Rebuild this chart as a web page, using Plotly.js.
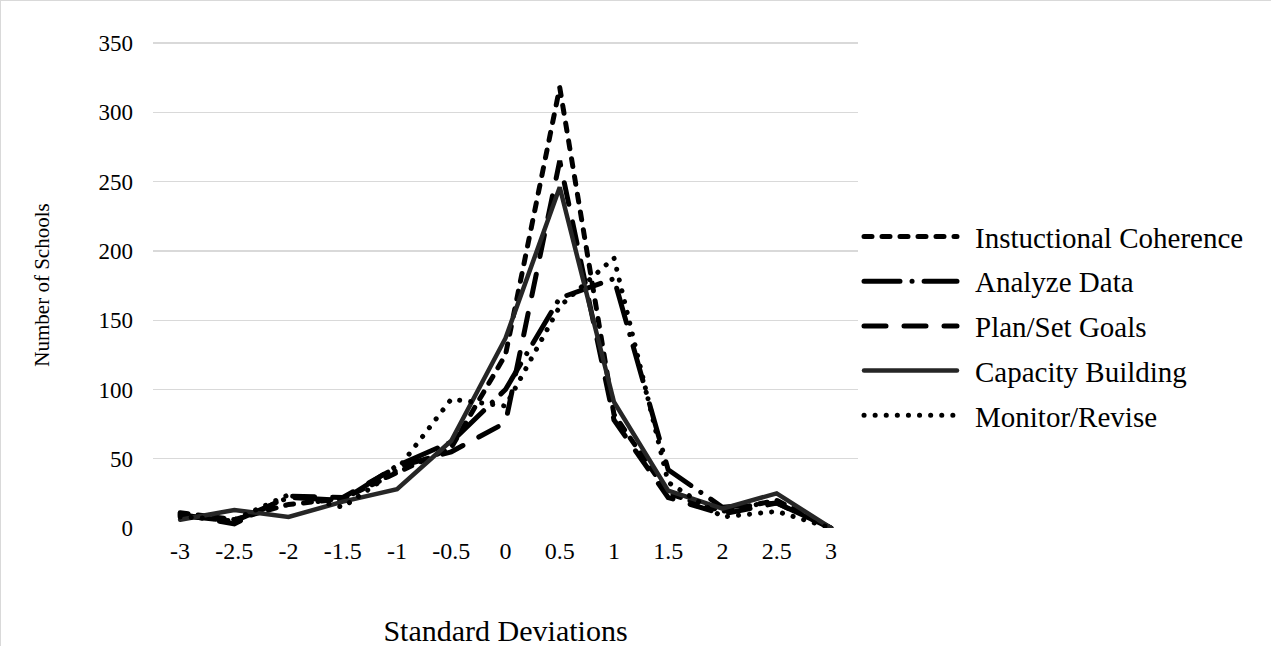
<!DOCTYPE html>
<html>
<head>
<meta charset="utf-8">
<script src="https://cdn.plot.ly/plotly-3.0.1.min.js"></script>
<style>
html, body { margin: 0; padding: 0; background: #fff; }
#chart { width: 1271px; height: 646px; box-sizing: border-box; border-left: 1px solid #d9d9d9; border-top: 1px solid #d9d9d9; }
.scatterlayer .js-line, .legend .legendlines path { stroke-linecap: round !important; }
</style>
</head>
<body>
<div id="chart"></div>
<script>
const categories = ["-3", "-2.5", "-2", "-1.5", "-1", "-0.5", "0", "0.5", "1", "1.5", "2", "2.5", "3"];
const instructionalCoherence = [11, 6, 17, 21, 40, 58, 125, 318, 82, 25, 12, 20, 0];
const analyzeData = [9, 5, 22, 20, 45, 62, 100, 166, 180, 42, 15, 18, 0];
const planSetGoals = [10, 3, 23, 22, 44, 55, 76, 265, 78, 22, 10, 18, 0];
const capacityBuilding = [6, 13, 8, 19, 28, 63, 137, 246, 91, 27, 14, 25, 0];
const monitorRevise = [8, 6, 24, 15, 42, 93, 88, 160, 195, 33, 8, 12, 0];
const seriesNames = ["Instuctional Coherence", "Analyze Data", "Plan/Set Goals", "Capacity Building", "Monitor/Revise"];

const serif = "Liberation Serif, Times New Roman, serif";
const styles = [
  {color: "#000000", width: 5, dash: "8px,10px"},
  {color: "#000000", width: 5, dash: "36px,12px,0.1px,12px"},
  {color: "#000000", width: 5, dash: "22px,18px"},
  {color: "#262626", width: 4.5, dash: "solid"},
  {color: "#000000", width: 5, dash: "0.1px,11px"}
];
const values = [instructionalCoherence, analyzeData, planSetGoals, capacityBuilding, monitorRevise];

const traces = values.map((v, i) => ({
  type: "scatter",
  mode: "lines",
  x: categories,
  y: v,
  name: seriesNames[i],
  legendgroup: "g" + i,
  line: styles[i],
  hoverinfo: "x+y+name"
}));

const layout = {
  width: 1271,
  height: 646,
  margin: {l: 152, r: 414, t: 41, b: 119},
  paper_bgcolor: "#ffffff",
  plot_bgcolor: "#ffffff",
  font: {family: serif, size: 23, color: "#000000"},
  showlegend: true,
  legend: {
    x: 1.0, xanchor: "left", y: 0.652, yanchor: "top",
    font: {family: serif, size: 29, color: "#000000"},
    traceorder: "grouped",
    tracegroupgap: 4,
    itemwidth: 107,
    bgcolor: "rgba(0,0,0,0)"
  },
  xaxis: {
    type: "category",
    range: [-0.5, 12.5],
    showgrid: false,
    zeroline: false,
    showline: false,
    ticks: "",
    tickfont: {family: serif, size: 24, color: "#000000"},
    ticklabelstandoff: 6,
    title: {text: "Standard Deviations", font: {family: serif, size: 30, color: "#000000"}, standoff: 58}
  },
  yaxis: {
    range: [0, 350.8],
    tick0: 0,
    dtick: 50,
    showgrid: true,
    gridcolor: "#d9d9d9",
    gridwidth: 1.3,
    zeroline: false,
    showline: false,
    ticks: "",
    tickfont: {family: serif, size: 23, color: "#000000"},
    ticklabelstandoff: 19,
    title: {text: "Number of Schools", font: {family: serif, size: 21, color: "#000000"}, standoff: 43}
  }
};

Plotly.newPlot("chart", traces, layout, {displayModeBar: false, staticPlot: true}).then(function () {
  document.querySelectorAll(".legend .legendlines path").forEach(function (p) {
    p.setAttribute("d", "M6,0h93");
  });
});
</script>
</body>
</html>
